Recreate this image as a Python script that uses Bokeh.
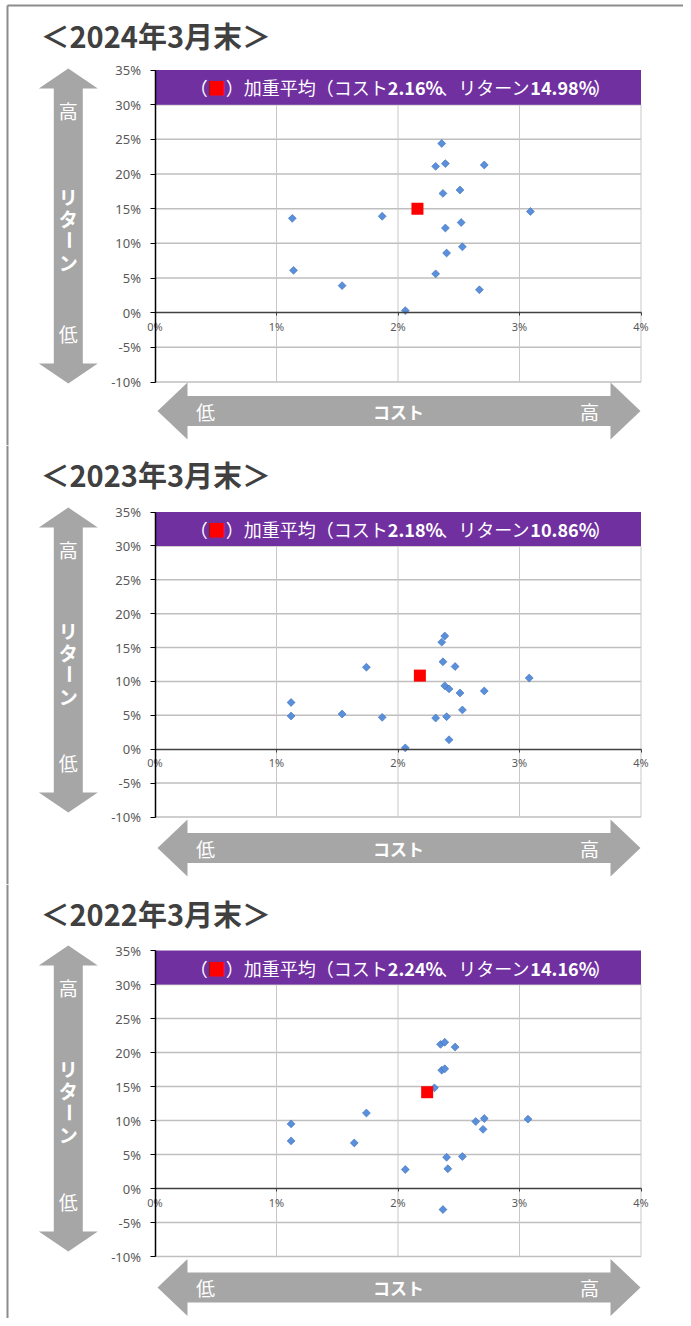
import math
from bokeh.plotting import figure
from bokeh.layouts import column
from bokeh.models import LinearAxis, FixedTicker, PrintfTickFormatter
from bokeh.core.properties import value
from bokeh.embed import file_html
from bokeh.resources import INLINE

# ---------------- data ----------------
titles = ["＜2024年3月末＞", "＜2023年3月末＞", "＜2022年3月末＞"]

cost_2024 = [2.36, 2.31, 2.39, 2.71, 2.51, 2.37, 3.09, 1.13, 1.87, 2.52, 2.39, 2.53, 2.40, 1.14, 2.31, 1.54, 2.67, 2.06]
ret_2024 = [24.4, 21.1, 21.5, 21.3, 17.7, 17.2, 14.6, 13.6, 13.9, 13.0, 12.2, 9.5, 8.6, 6.1, 5.6, 3.9, 3.3, 0.3]

cost_2023 = [2.385, 2.36, 2.37, 2.47, 1.74, 3.08, 2.385, 2.42, 2.51, 2.71, 1.12, 2.53, 1.12, 1.54, 1.87, 2.31, 2.40, 2.42, 2.06]
ret_2023 = [16.7, 15.8, 12.9, 12.2, 12.1, 10.5, 9.35, 8.9, 8.3, 8.6, 6.9, 5.8, 4.9, 5.2, 4.7, 4.6, 4.8, 1.4, 0.2]

cost_2022 = [2.35, 2.385, 2.47, 2.36, 2.385, 2.30, 1.74, 2.64, 2.71, 3.07, 2.70, 1.12, 1.12, 1.64, 2.06, 2.40, 2.53, 2.41, 2.37]
ret_2022 = [21.2, 21.5, 20.8, 17.4, 17.6, 14.8, 11.1, 9.85, 10.3, 10.2, 8.7, 9.5, 7.0, 6.7, 2.8, 4.6, 4.7, 2.9, -3.1]

avg_cost = [2.16, 2.18, 2.24]
avg_ret = [14.98, 10.86, 14.16]

x_ticks = [0, 1, 2, 3, 4]
y_ticks = [-10, -5, 0, 5, 10, 15, 20, 25, 30, 35]

# ---------------- layout constants (reference pixels) ----------------
FIG_W = 683
X0_PX, X4_PX = 154.5, 640.5
panels = [
    dict(T=0, H=445, y35=69.5, ym10=381.5, ty=34.5, vt=68, vb=383, hy=410.5),
    dict(T=445, H=439, y35=511.5, ym10=816.5, ty=473.5, vt=507, vb=812, hy=847.5),
    dict(T=884, H=434, y35=950, ym10=1256, ty=912, vt=945, vb=1251, hy=1287),
]
JP = value("Noto Sans CJK JP")


def est_width(s, size, bold):
    w = 0.0
    for ch in s:
        if ord(ch) > 0x2000:
            w += 1.0
        elif ch.isdigit():
            w += 0.575 if bold else 0.555
        elif ch == ".":
            w += 0.29 if bold else 0.27
        elif ch == "%":
            w += 0.9 if bold else 0.87
        else:
            w += 0.6
    return w * size


def make_panel(i, costs, rets):
    cfg = panels[i]
    T, H, y35, ym10 = cfg["T"], cfg["H"], cfg["y35"], cfg["ym10"]
    sx = (X4_PX - X0_PX) / 4.0
    sy = (ym10 - y35) / 45.0

    def X(px):
        return (px - X0_PX) / sx

    def Y(py):
        return 35 - (py - y35) / sy

    p = figure(width=FIG_W, height=H, x_range=(X(0), X(FIG_W)), y_range=(Y(T + H), Y(T)),
               x_axis_type=None, y_axis_type=None, toolbar_location=None, tools="",
               output_backend="svg", min_border=0, outline_line_color=None, title=None,
               background_fill_color="white", border_fill_color="white")

    # outer border
    top = 5 if i == 0 else T
    p.segment(x0=[X(7)], y0=[Y(top)], x1=[X(7)], y1=[Y(T + H)], line_color="#8C8C8C", line_width=2)
    if i == 0:
        p.segment(x0=[X(7)], y0=[Y(5)], x1=[X(FIG_W)], y1=[Y(5)], line_color="#8C8C8C", line_width=2)

    # grid lines
    hg = [t for t in y_ticks if t not in (0, 35)]
    p.segment(x0=[x_ticks[0]] * len(hg), y0=hg, x1=[x_ticks[-1]] * len(hg), y1=hg,
              line_color="#BFBFBF", line_width=1.5)
    vg = [t for t in x_ticks if t != 0]
    p.segment(x0=vg, y0=[y_ticks[0]] * len(vg), x1=vg, y1=[30] * len(vg),
              line_color="#C8C8C8", line_width=1)

    # purple band
    p.quad(left=[x_ticks[0]], right=[x_ticks[-1]], bottom=[30], top=[35],
           fill_color="#7030A0", line_color=None)

    # band text runs
    fs = 18
    runs = [("（", False, "white"), ("■", False, "#FF0000"), ("）", False, "white"),
            ("加重平均", False, "white"), ("（コスト", False, "white"),
            (f"{avg_cost[i]:.2f}%", True, "white"), ("、リターン", False, "white"),
            (f"{avg_ret[i]:.2f}%", True, "white"), ("）", False, "white")]
    total = sum(est_width(s, fs, b) for s, b, c in runs)
    cur = 400 - total / 2
    by = Y((y35 + y35 + 5 * sy) / 2)
    for s, b, c in runs:
        p.text(x=[X(cur)], y=[by], text=[s], text_font=JP, text_font_size=f"{fs}px",
               text_font_style="bold" if b else "normal", text_color=c,
               text_align="left", text_baseline="middle")
        cur += est_width(s, fs, b)

    # axes at zero
    yax = LinearAxis(fixed_location=0, bounds=(y_ticks[0], y_ticks[-1]),
                     ticker=FixedTicker(ticks=y_ticks), formatter=PrintfTickFormatter(format="%d%%"),
                     axis_line_color="black", axis_line_width=1.5,
                     major_tick_line_color="black", major_tick_out=5, major_tick_in=0,
                     minor_tick_line_color=None, major_label_standoff=9,
                     major_label_text_font="Noto Sans", major_label_text_font_size="13px",
                     major_label_text_color="#595959")
    p.add_layout(yax, "left")
    xax = LinearAxis(fixed_location=0, bounds=(x_ticks[0], x_ticks[-1]),
                     ticker=FixedTicker(ticks=x_ticks), formatter=PrintfTickFormatter(format="%d%%"),
                     axis_line_color="#404040", axis_line_width=1.5,
                     major_tick_line_color="#404040", major_tick_out=3, major_tick_in=0,
                     minor_tick_line_color=None, major_label_standoff=3,
                     major_label_text_font="Noto Sans", major_label_text_font_size="11px",
                     major_label_text_color="#595959")
    p.add_layout(xax, "below")

    # points
    p.scatter(x=costs, y=rets, marker="square", size=5.6, angle=math.pi / 4,
              fill_color="#5A8FDB", line_color="#3D6DB5", line_width=0.6)
    p.scatter(x=[avg_cost[i]], y=[avg_ret[i]], marker="square", size=12,
              fill_color="#FF0000", line_color=None)

    # title
    p.text(x=[X(40)], y=[Y(cfg["ty"])], text=[titles[i]], text_font=JP, text_font_size="29px",
           text_font_style="bold", text_color="#404040", text_align="left", text_baseline="middle")

    # vertical arrow
    cx, hw, sw, hl = 67.8, 29.5, 14.5, 20
    vt, vb = cfg["vt"], cfg["vb"]
    vpx = [cx, cx + hw, cx + sw, cx + sw, cx + hw, cx, cx - hw, cx - sw, cx - sw, cx - hw]
    vpy = [vt, vt + hl, vt + hl, vb - hl, vb - hl, vb, vb - hl, vb - hl, vt + hl, vt + hl]
    p.patch(x=[X(v) for v in vpx], y=[Y(v) for v in vpy], fill_color="#A6A6A6", line_color=None)
    p.text(x=[X(cx)] * 2, y=[Y(vt + 42), Y(vb - 50)], text=["高", "低"], text_font=JP,
           text_font_size="19px", text_color="white", text_align="center", text_baseline="middle")
    mid = (vt + vb) / 2 + 3
    chars = ["リ", "タ", "ー", "ン"]
    offs = [-33, -11, 11, 33]
    p.text(x=[X(cx)] * 4, y=[Y(mid + o) for o in offs], text=chars,
           angle=[0, 0, math.pi / 2, 0], text_font=JP, text_font_size="19px",
           text_font_style="bold", text_color="white", text_align="center", text_baseline="middle")

    # horizontal arrow
    hy = cfg["hy"]
    lx, rx, hh, sh, hlen = 157, 640, 28.5, 15, 30
    hpx = [lx, lx + hlen, lx + hlen, rx - hlen, rx - hlen, rx, rx - hlen, rx - hlen, lx + hlen, lx + hlen]
    hpy = [hy, hy - hh, hy - sh, hy - sh, hy - hh, hy, hy + hh, hy + sh, hy + sh, hy + hh]
    p.patch(x=[X(v) for v in hpx], y=[Y(v) for v in hpy], fill_color="#A6A6A6", line_color=None)
    p.text(x=[X(205), X(589)], y=[Y(hy)] * 2, text=["低", "高"], text_font=JP,
           text_font_size="19px", text_color="white", text_align="center", text_baseline="middle")
    p.text(x=[X(398)], y=[Y(hy)], text=["コスト"], text_font=JP, text_font_size="17px",
           text_font_style="bold", text_color="white", text_align="center", text_baseline="middle")
    return p


p1 = make_panel(0, cost_2024, ret_2024)
p2 = make_panel(1, cost_2023, ret_2023)
p3 = make_panel(2, cost_2022, ret_2022)
layout = column(p1, p2, p3, spacing=0)

open("out.html", "w").write(file_html(layout, INLINE))
